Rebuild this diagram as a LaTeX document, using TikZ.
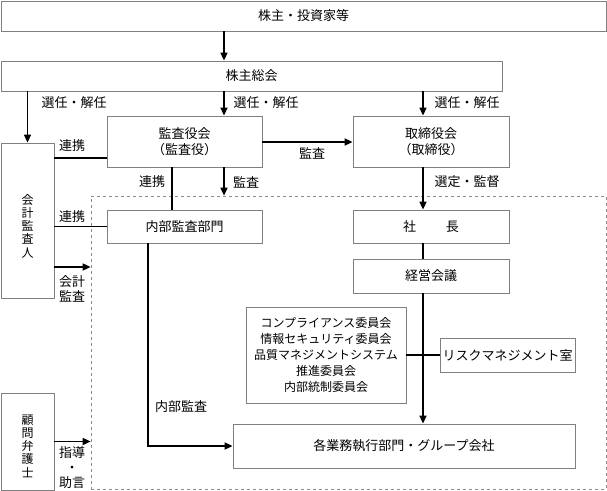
\documentclass[tikz,border=0pt]{standalone}
\usepackage{fontspec}
\setmainfont{Noto Sans CJK JP}
\usetikzlibrary{arrows.meta}
\tikzset{
  box/.style={draw=black!50, line width=0.8pt, inner sep=0pt, align=center, font=\fontsize{13}{16}\selectfont},
  conn/.style={line width=1.6pt, black},
  arr/.style={conn, -{Triangle[length=8pt,width=7pt]}},
  lbl/.style={inner sep=0pt, align=center, font=\fontsize{13}{15}\selectfont},
  vtext/.style={inner sep=0pt, align=center, font=\fontsize{12}{13.2}\selectfont},
}
\begin{document}
\begin{tikzpicture}[x=1pt,y=-1pt]
\useasboundingbox (0,0) rectangle (607,490);
\fill[white] (0,0) rectangle (607,490);
% dashed region
\node[draw=black!45, dashed, line width=0.7pt, minimum width=515pt, minimum height=293pt, inner sep=0pt] (exec) at (348.5,342.5) {};
% boxes
\node[box, minimum width=605pt, minimum height=30pt] (inv) at (303.5,16) {株主・投資家等};
\node[box, minimum width=501pt, minimum height=30pt] (gm) at (251.5,76) {株主総会};
\node[box, minimum width=53pt, minimum height=155pt] (kaikei) at (27.5,220.5) {};
\node[vtext] at (27.5,226) {会\\計\\監\\査\\人};
\node[box, minimum width=155pt, minimum height=51pt] (kansa) at (184.5,141.5) {監査役会\\（監査役）};
\node[box, minimum width=156pt, minimum height=51pt] (tori) at (431,141.5) {取締役会\\（取締役）};
\node[box, minimum width=155pt, minimum height=33pt, fill=white] (naibu) at (184.5,226.5) {内部監査部門};
\node[box, minimum width=156pt, minimum height=33pt] (shacho) at (431,226.5) {社\hspace{30pt}長};
\node[box, minimum width=156pt, minimum height=34pt] (keiei) at (431,276) {経営会議};
\node[box, minimum width=160pt, minimum height=96pt, font=\fontsize{12}{16}\selectfont] (comm) at (326,355) {コンプライアンス委員会\\情報セキュリティ委員会\\品質マネジメントシステム\\推進委員会\\内部統制委員会};
\node[box, minimum width=135pt, minimum height=34pt] (risk) at (507.5,355) {リスクマネジメント室};
\node[box, minimum width=342pt, minimum height=44pt] (gyomu) at (404,446) {各業務執行部門・グループ会社};
\node[box, minimum width=53pt, minimum height=97pt] (komon) at (27.5,441.5) {};
\node[vtext] at (27.5,446) {顧\\問\\弁\\護\\士};
% helper coordinates
\coordinate (xa) at (224,0);
\coordinate (xb) at (423,0);
\coordinate (xc) at (172,0);
\coordinate (xd) at (148,0);
\coordinate (ya) at (0,158);
\coordinate (yb) at (0,142);
\coordinate (yc) at (0,267);
% connectors
\draw[arr] (xa |- inv.south) -- (xa |- gm.north);
\draw[arr] (kaikei.north |- gm.south) -- (kaikei.north);
\draw[arr] (xa |- gm.south) -- (xa |- kansa.north);
\draw[arr] (xb |- gm.south) -- (xb |- tori.north);
\draw[conn] (kaikei.east |- ya) -- (kansa.west |- ya);
\draw[arr] (kansa.east |- yb) -- (tori.west |- yb);
\draw[conn] (xc |- kansa.south) -- (xc |- naibu.north);
\draw[arr] (xa |- kansa.south) -- (xa |- exec.north);
\draw[arr] (xb |- tori.south) -- (xb |- shacho.north);
\draw[conn] (xb |- shacho.south) -- (xb |- keiei.north);
\draw[arr] (xb |- keiei.south) -- (xb |- gyomu.north);
\draw[conn] (comm.east) -- (risk.west);
\draw[conn] (kaikei.east |- naibu.west) -- (naibu.west);
\draw[arr] (kaikei.east |- yc) -- (exec.west |- yc);
\draw[arr] (xd |- naibu.south) |- (gyomu.west);
\draw[arr] (komon.east) -- (exec.west |- komon.east);
% labels
\node[lbl] at (74,103) {選任・解任};
\node[lbl] at (266,103) {選任・解任};
\node[lbl] at (467,103) {選任・解任};
\node[lbl] at (72,146) {連携};
\node[lbl] at (312,153) {監査};
\node[lbl] at (152,182) {連携};
\node[lbl] at (246,182) {監査};
\node[lbl] at (467,182) {選定・監督};
\node[lbl] at (72,217) {連携};
\node[lbl] at (72,289) {会計\\監査};
\node[lbl] at (181,407) {内部監査};
\node[lbl] at (72,468) {指導\\・\\助言};
\end{tikzpicture}
\end{document}
